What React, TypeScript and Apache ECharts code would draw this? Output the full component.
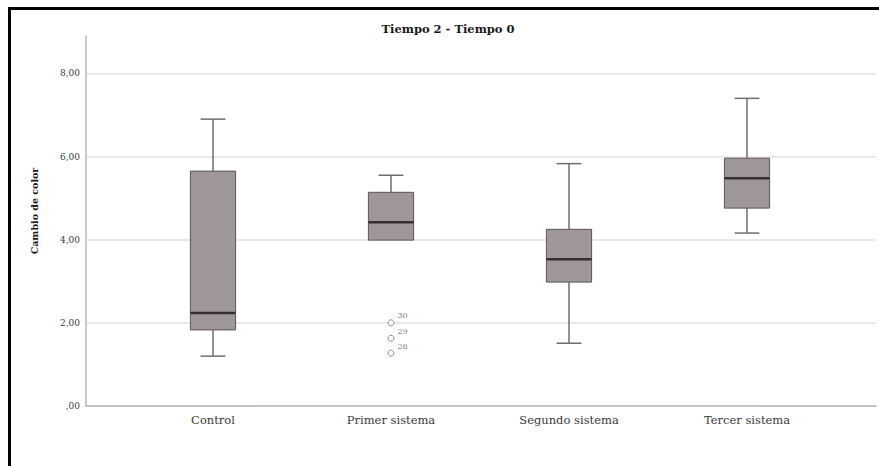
import React, { useEffect, useRef } from "react";
import * as echarts from "echarts";

const title = "Tiempo 2 - Tiempo 0";
const yAxisName = "Cambio de color";
const categories = ["Control", "Primer sistema", "Segundo sistema", "Tercer sistema"];
// [min whisker, Q1, median, Q3, max whisker]
const controlStats = [1.2, 1.83, 2.24, 5.65, 6.9];
const primerStats = [3.99, 3.99, 4.42, 5.14, 5.55];
const segundoStats = [1.51, 2.98, 3.53, 4.25, 5.83];
const tercerStats = [4.16, 4.76, 5.48, 5.96, 7.4];
const boxStats = [controlStats, primerStats, segundoStats, tercerStats];
const outlierCategory = "Primer sistema";
const outlierValues = [2.0, 1.63, 1.27];
const outlierLabels = ["30", "29", "26"];
const yTickMax = 8;
const yAxisMax = 8.9;
const yTickInterval = 2;

const FONT = "'DejaVu Serif', 'Liberation Serif', serif";

const fmt = (v: number) => {
  const s = v.toFixed(2).replace(".", ",");
  return s.startsWith("0,") ? s.slice(1) : s;
};

export default function App() {
  const ref = useRef<HTMLDivElement>(null);
  useEffect(() => {
    if (!ref.current) return;
    const chart = echarts.init(ref.current, null, { renderer: "svg" });
    const plotTop = 36;
    const plotBottom = 406;
    const W = 879;
    const H = 466;
    const gridTicksTop = plotBottom - (yTickMax / yAxisMax) * (plotBottom - plotTop);

    const boxData = boxStats.map((s, i) => [i, ...s]);
    const outlierData = outlierValues.map((v, i) => ({
      value: [outlierCategory, v],
      label: { formatter: outlierLabels[i] },
    }));

    const renderItem = (params: any, api: any) => {
      const idx = api.value(0);
      const vmin = api.value(1);
      const q1 = api.value(2);
      const med = api.value(3);
      const q3 = api.value(4);
      const vmax = api.value(5);
      const xc = api.coord([idx, med])[0];
      const yMin = api.coord([idx, vmin])[1];
      const yQ1 = api.coord([idx, q1])[1];
      const yMed = api.coord([idx, med])[1];
      const yQ3 = api.coord([idx, q3])[1];
      const yMax = api.coord([idx, vmax])[1];
      const band = api.size([1, 0])[0];
      const half = band * 0.127;
      const cap = half * 0.55;
      const whiskerStyle = { stroke: "#6e6e6e", lineWidth: 1.5 };
      const children: any[] = [];
      if (yMax < yQ3 - 0.5) {
        children.push({ type: "line", shape: { x1: xc, y1: yQ3, x2: xc, y2: yMax }, style: whiskerStyle });
        children.push({ type: "line", shape: { x1: xc - cap, y1: yMax, x2: xc + cap, y2: yMax }, style: whiskerStyle });
      }
      if (yMin > yQ1 + 0.5) {
        children.push({ type: "line", shape: { x1: xc, y1: yQ1, x2: xc, y2: yMin }, style: whiskerStyle });
        children.push({ type: "line", shape: { x1: xc - cap, y1: yMin, x2: xc + cap, y2: yMin }, style: whiskerStyle });
      }
      children.push({
        type: "rect",
        shape: { x: xc - half, y: yQ3, width: half * 2, height: yQ1 - yQ3 },
        style: { fill: "#9f9697", stroke: "#5a5555", lineWidth: 1 },
      });
      children.push({
        type: "line",
        shape: { x1: xc - half, y1: yMed, x2: xc + half, y2: yMed },
        style: { stroke: "#352f2f", lineWidth: 2.5 },
      });
      return { type: "group", children };
    };

    chart.setOption({
      animation: false,
      backgroundColor: "#ffffff",
      title: {
        text: title,
        left: 443,
        top: 18,
        textAlign: "center",
        textStyle: { fontFamily: FONT, fontWeight: "bold", fontSize: 11.5, color: "#1a1a1a" },
      },
      grid: [
        { left: 86, right: W - 876, top: plotTop, bottom: H - plotBottom },
        { left: 124, right: W - 836, top: plotTop, bottom: H - plotBottom },
        { left: 86, right: W - 876, top: gridTicksTop, bottom: H - plotBottom },
      ],
      xAxis: [
        {
          gridIndex: 0, type: "value", min: 0, max: 1,
          axisLine: { show: true, onZero: false, lineStyle: { color: "#b8b8b8", width: 1.5 } },
          axisTick: { show: false }, axisLabel: { show: false }, splitLine: { show: false },
        },
        {
          gridIndex: 1, type: "category", data: categories,
          axisLine: { show: false }, axisTick: { show: false },
          axisLabel: { margin: 8, fontFamily: FONT, fontSize: 11.5, color: "#3a3a3a" },
          splitLine: { show: false },
        },
        {
          gridIndex: 2, type: "value", min: 0, max: 1, show: false,
        },
      ],
      yAxis: [
        {
          gridIndex: 0, type: "value", min: 0, max: yAxisMax,
          axisLine: { show: true, lineStyle: { color: "#b8b8b8", width: 1.5 } },
          axisTick: { show: false }, axisLabel: { show: false }, splitLine: { show: false },
        },
        {
          gridIndex: 1, type: "value", min: 0, max: yAxisMax, show: false,
          splitLine: { show: false },
        },
        {
          gridIndex: 2, type: "value", min: 0, max: yTickMax, interval: yTickInterval,
          axisLine: { show: false }, axisTick: { show: false },
          axisLabel: { formatter: fmt, margin: 6, fontFamily: FONT, fontSize: 9, color: "#3a3a3a" },
          splitLine: { show: true, lineStyle: { color: "#e2e2e2", width: 1.5 } },
        },
      ],
      series: [
        {
          type: "custom",
          xAxisIndex: 1,
          yAxisIndex: 1,
          data: boxData,
          encode: { x: 0, y: [1, 2, 3, 4, 5] },
          renderItem,
          silent: true,
        },
        {
          type: "scatter",
          xAxisIndex: 1,
          yAxisIndex: 1,
          data: outlierData,
          symbol: "circle",
          symbolSize: 6,
          itemStyle: { color: "#ffffff", borderColor: "#707070", borderWidth: 1 },
          label: {
            show: true,
            position: "right",
            distance: 3,
            offset: [0, -7],
            fontFamily: FONT,
            fontSize: 8,
            color: "#555555",
          },
          silent: true,
        },
      ],
      graphic: [
        {
          type: "text",
          x: 34,
          y: 211,
          rotation: Math.PI / 2,
          style: {
            text: yAxisName,
            fontFamily: FONT,
            fontWeight: "bold",
            fontSize: 9.5,
            fill: "#1a1a1a",
            align: "center",
            verticalAlign: "middle",
          },
        },
        { type: "rect", shape: { x: 8, y: 7, width: W - 8, height: 3 }, style: { fill: "#000" } },
        { type: "rect", shape: { x: 8, y: 7, width: 3, height: H - 7 }, style: { fill: "#000" } },
      ],
    });
    return () => chart.dispose();
  }, []);
  return (
    <div
      ref={ref}
      style={{ position: "fixed", left: 0, top: 0, width: 879, height: 466, background: "#fff" }}
    />
  );
}
